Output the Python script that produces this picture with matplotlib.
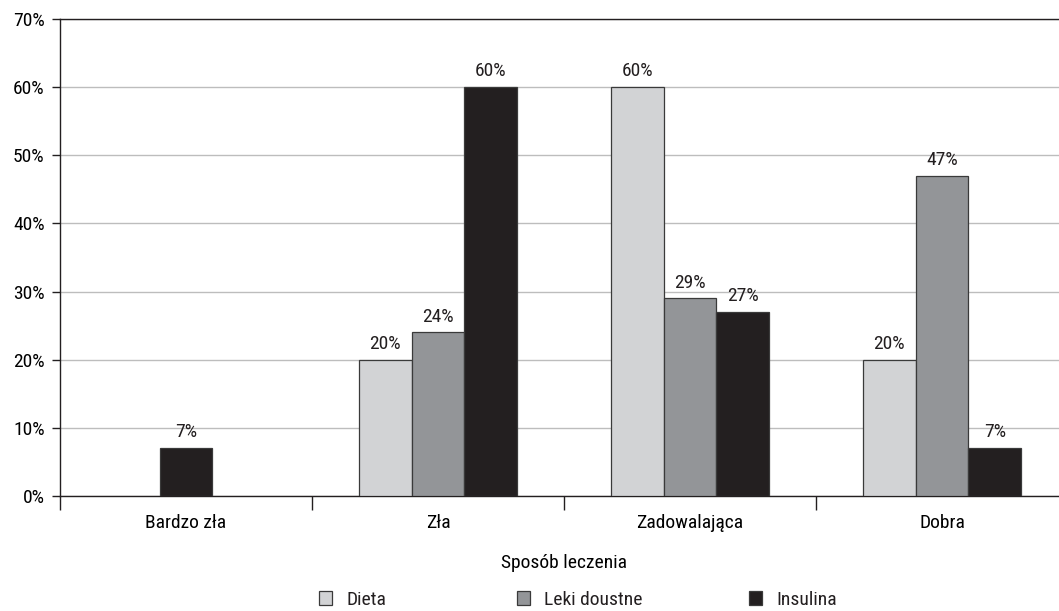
import matplotlib
matplotlib.use('Agg')
import matplotlib.pyplot as plt
from matplotlib.patches import Patch
import numpy as np

plt.rcParams['font.family'] = ['Roboto Condensed', 'DejaVu Sans']
plt.rcParams['font.size'] = 14
plt.rcParams['text.color'] = '#231f20'

categories = ['Bardzo zła', 'Zła', 'Zadowalająca', 'Dobra']
series = ['Dieta', 'Leki doustne', 'Insulina']
dieta = [0, 20, 60, 20]
leki = [0, 24, 29, 47]
insulina = [7, 60, 27, 7]
values = [dieta, leki, insulina]
colors = ['#d2d3d5', '#939598', '#231f20']
legend_x = [0.2845, 0.4715, 0.6905]

fig = plt.figure(figsize=(10.59, 6.11), dpi=100)
ax = fig.add_axes([60 / 1059, 115 / 611, 1008 / 1059, 477 / 611])

x = np.arange(len(categories))
w = 0.21
for j, cat in enumerate(categories):
    vals = [v[j] for v in values]
    shown = [i for i, v in enumerate(vals) if v > 0]
    for i in shown:
        # a lone bar sits in the middle of its group
        off = 0 if len(shown) == 1 else (i - 1) * w
        xp = x[j] + off
        ax.bar(xp, vals[i], width=w, color=colors[i], edgecolor='#3a3a3a', linewidth=0.9, zorder=3)
        ax.text(xp, vals[i] + 1.0, f'{vals[i]}%', ha='center', va='bottom')

ax.set_xlim(-0.5, 3.5)
ax.set_ylim(0, 70)
ax.set_yticks(range(0, 71, 10))
ax.set_yticklabels([f'{t}%' for t in range(0, 71, 10)])
ax.yaxis.grid(True, color='#bdbdbd', linewidth=1.0, zorder=0)
ax.set_axisbelow(True)

ax.set_xticks(x)
ax.set_xticklabels(categories)
ax.set_xticks(np.arange(-0.5, 3.6, 1), minor=True)
ax.tick_params(axis='x', which='major', length=0, pad=13)
ax.tick_params(axis='x', which='minor', length=10, width=1, color='#231f20', direction='out')
ax.tick_params(axis='y', length=6, width=1, color='#231f20', pad=5)
ax.set_xlabel('Sposób leczenia', labelpad=16)

for s in ax.spines.values():
    s.set_color('#231f20')
    s.set_linewidth(1.0)

for name, c, lx in zip(series, colors, legend_x):
    fig.legend(handles=[Patch(facecolor=c, edgecolor='#3a3a3a', linewidth=0.9)], labels=[name],
               loc='center left', bbox_to_anchor=(lx, 0.018), frameon=False,
               handlelength=0.7, handleheight=0.7, handletextpad=0.7)

fig.savefig('out.png', dpi=100)
